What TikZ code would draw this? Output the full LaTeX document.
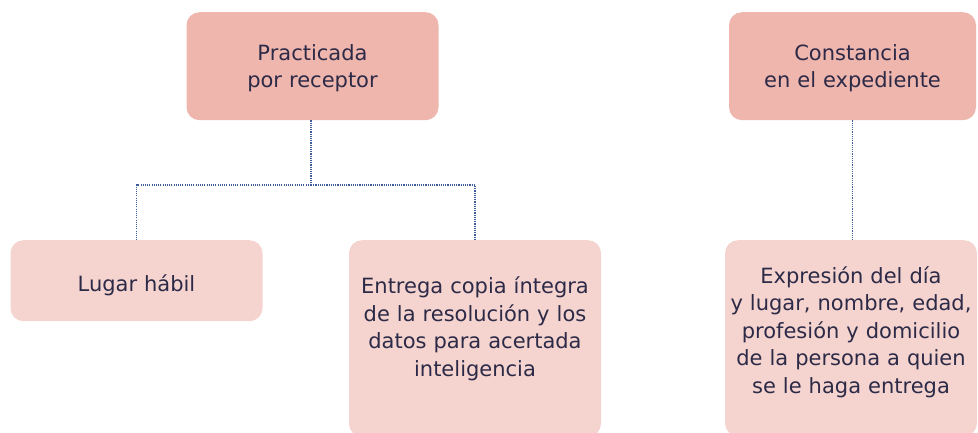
\documentclass[tikz,border=0pt]{standalone}
\usepackage{fontspec}
\setmainfont{DejaVu Sans}
\usetikzlibrary{positioning}

\definecolor{topfill}{HTML}{EFB6AE}
\definecolor{subfill}{HTML}{F5D4CF}
\definecolor{ink}{HTML}{2C2A47}
\definecolor{wire}{HTML}{3D5C9A}

\tikzset{
  card/.style={rounded corners=13pt,anchor=north,inner xsep=1pt,inner ysep=0pt,
    text width=250pt,align=center,text=ink,font=\fontsize{21}{27.5}\selectfont},
  topbox/.style={card,fill=topfill,text height=48pt,text depth=60pt},
  subbox/.style={card,fill=subfill},
  wireline/.style={wire,line width=1.1pt,dash pattern=on 1.1pt off 1.1pt}
}

\begin{document}
\begin{tikzpicture}[x=1pt,y=1pt]
  \useasboundingbox (0,0) rectangle (978,-432);

  \node[topbox] (practicada) at (312.5,-12) {Practicada\\por receptor};
  \node[topbox,text width=245pt] (constancia) at (852.5,-12) {Constancia\\en el expediente};

  \node[subbox,text height=51pt,text depth=30pt] (lugar) at (136.5,-240) {Lugar hábil};
  \node[subbox,text height=53.5pt,text depth=143pt] (entrega) at (475,-240) {Entrega copia íntegra\\de la resolución y los\\datos para acertada\\inteligencia};
  \node[subbox,text height=43pt,text depth=153pt] (expresion) at (851,-240) {Expresión del día\\y lugar, nombre, edad,\\profesión y domicilio\\de la persona a quien\\se le haga entrega};

  \coordinate (bus) at (311,-185);
  \draw[wireline] (practicada.south -| bus) -- (bus);
  \draw[wireline] (bus) -| (lugar.north);
  \draw[wireline] (bus) -| (entrega.north);
  \draw[wireline] (constancia.south) -- (constancia.south |- expresion.north);
\end{tikzpicture}
\end{document}
